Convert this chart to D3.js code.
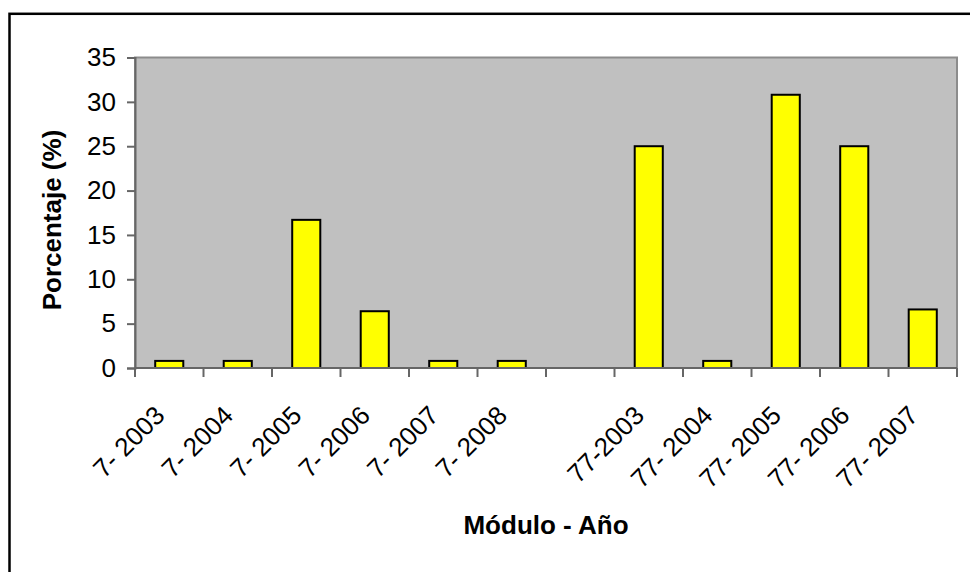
<!DOCTYPE html>
<html>
<head>
<meta charset="utf-8">
<script src="https://cdn.jsdelivr.net/npm/d3@7"></script>
<style>
  html, body { margin: 0; padding: 0; background: #fff; }
  svg { display: block; }
  text { font-family: Arial, "Liberation Sans", sans-serif; fill: #000; }
</style>
</head>
<body>
<div id="chart"></div>
<script>
const categories = ["7- 2003", "7- 2004", "7- 2005", "7- 2006", "7- 2007", "7- 2008", "",
                    "77-2003", "77- 2004", "77- 2005", "77- 2006", "77- 2007"];
const values = [0.8, 0.8, 16.7, 6.4, 0.8, 0.8, null, 25, 0.8, 30.8, 25, 6.6];
const yTicks = [0, 5, 10, 15, 20, 25, 30, 35];
const xTitle = "Módulo - Año";
const yTitle = "Porcentaje (%)";

const W = 970, H = 572;
const plot = { left: 135, right: 957, top: 57.5, bottom: 368 };

const svg = d3.select("#chart").append("svg").attr("width", W).attr("height", H);

// outer chart border (extends beyond the visible area at right/bottom)
svg.append("rect").attr("x", 9.5).attr("y", 13.8).attr("width", 1000).attr("height", 1000)
  .attr("fill", "#fff").attr("stroke", "#000").attr("stroke-width", 2.5);

const x = d3.scaleBand().domain(d3.range(categories.length))
  .range([plot.left, plot.right]).paddingInner(0.59).paddingOuter(0.295);
const y = d3.scaleLinear().domain([0, 35]).range([plot.bottom, plot.top]);

// plot area
svg.append("rect").attr("x", plot.left).attr("y", plot.top)
  .attr("width", plot.right - plot.left).attr("height", plot.bottom - plot.top)
  .attr("fill", "#C0C0C0").attr("stroke", "#8c8c8c").attr("stroke-width", 2);

// bars
svg.append("g").selectAll("rect")
  .data(values.map((v, i) => ({ v, i })).filter(d => d.v != null))
  .join("rect")
  .attr("x", d => x(d.i)).attr("width", x.bandwidth())
  .attr("y", d => y(d.v)).attr("height", d => y(0) - y(d.v))
  .attr("fill", "#FFFF00").attr("stroke", "#000").attr("stroke-width", 2);

// y axis
const yAxis = svg.append("g").attr("transform", `translate(${plot.left},0)`)
  .call(d3.axisLeft(y).tickValues(yTicks).tickSize(8).tickPadding(11).tickFormat(d3.format("d")));
yAxis.select(".domain").attr("stroke", "#666").attr("stroke-width", 2);
yAxis.selectAll(".tick line").attr("stroke", "#666").attr("stroke-width", 2);
yAxis.selectAll(".tick text").attr("font-size", 26).attr("font-family", "Arial, 'Liberation Sans', sans-serif");

// x axis: line and ticks at category boundaries
const step = x.step();
const bounds = d3.range(categories.length + 1).map(i => plot.left + i * step);
svg.append("line").attr("x1", plot.left).attr("x2", plot.right)
  .attr("y1", plot.bottom).attr("y2", plot.bottom).attr("stroke", "#666").attr("stroke-width", 2);
svg.append("g").selectAll("line").data(bounds).join("line")
  .attr("x1", d => d).attr("x2", d => d).attr("y1", plot.bottom).attr("y2", plot.bottom + 9)
  .attr("stroke", "#666").attr("stroke-width", 2);

// x tick labels, rotated
svg.append("g").selectAll("text").data(categories).join("text")
  .attr("transform", (d, i) => `translate(${x(i) + x.bandwidth() / 2 - 3},417) rotate(-45)`)
  .attr("text-anchor", "end").attr("font-size", 26).text(d => d);

// axis titles
svg.append("text").attr("x", 546).attr("y", 534).attr("text-anchor", "middle")
  .attr("font-size", 26).attr("font-weight", "bold").text(xTitle);
svg.append("text").attr("transform", "translate(61,220) rotate(-90)").attr("text-anchor", "middle")
  .attr("font-size", 26).attr("font-weight", "bold").text(yTitle);
</script>
</body>
</html>
